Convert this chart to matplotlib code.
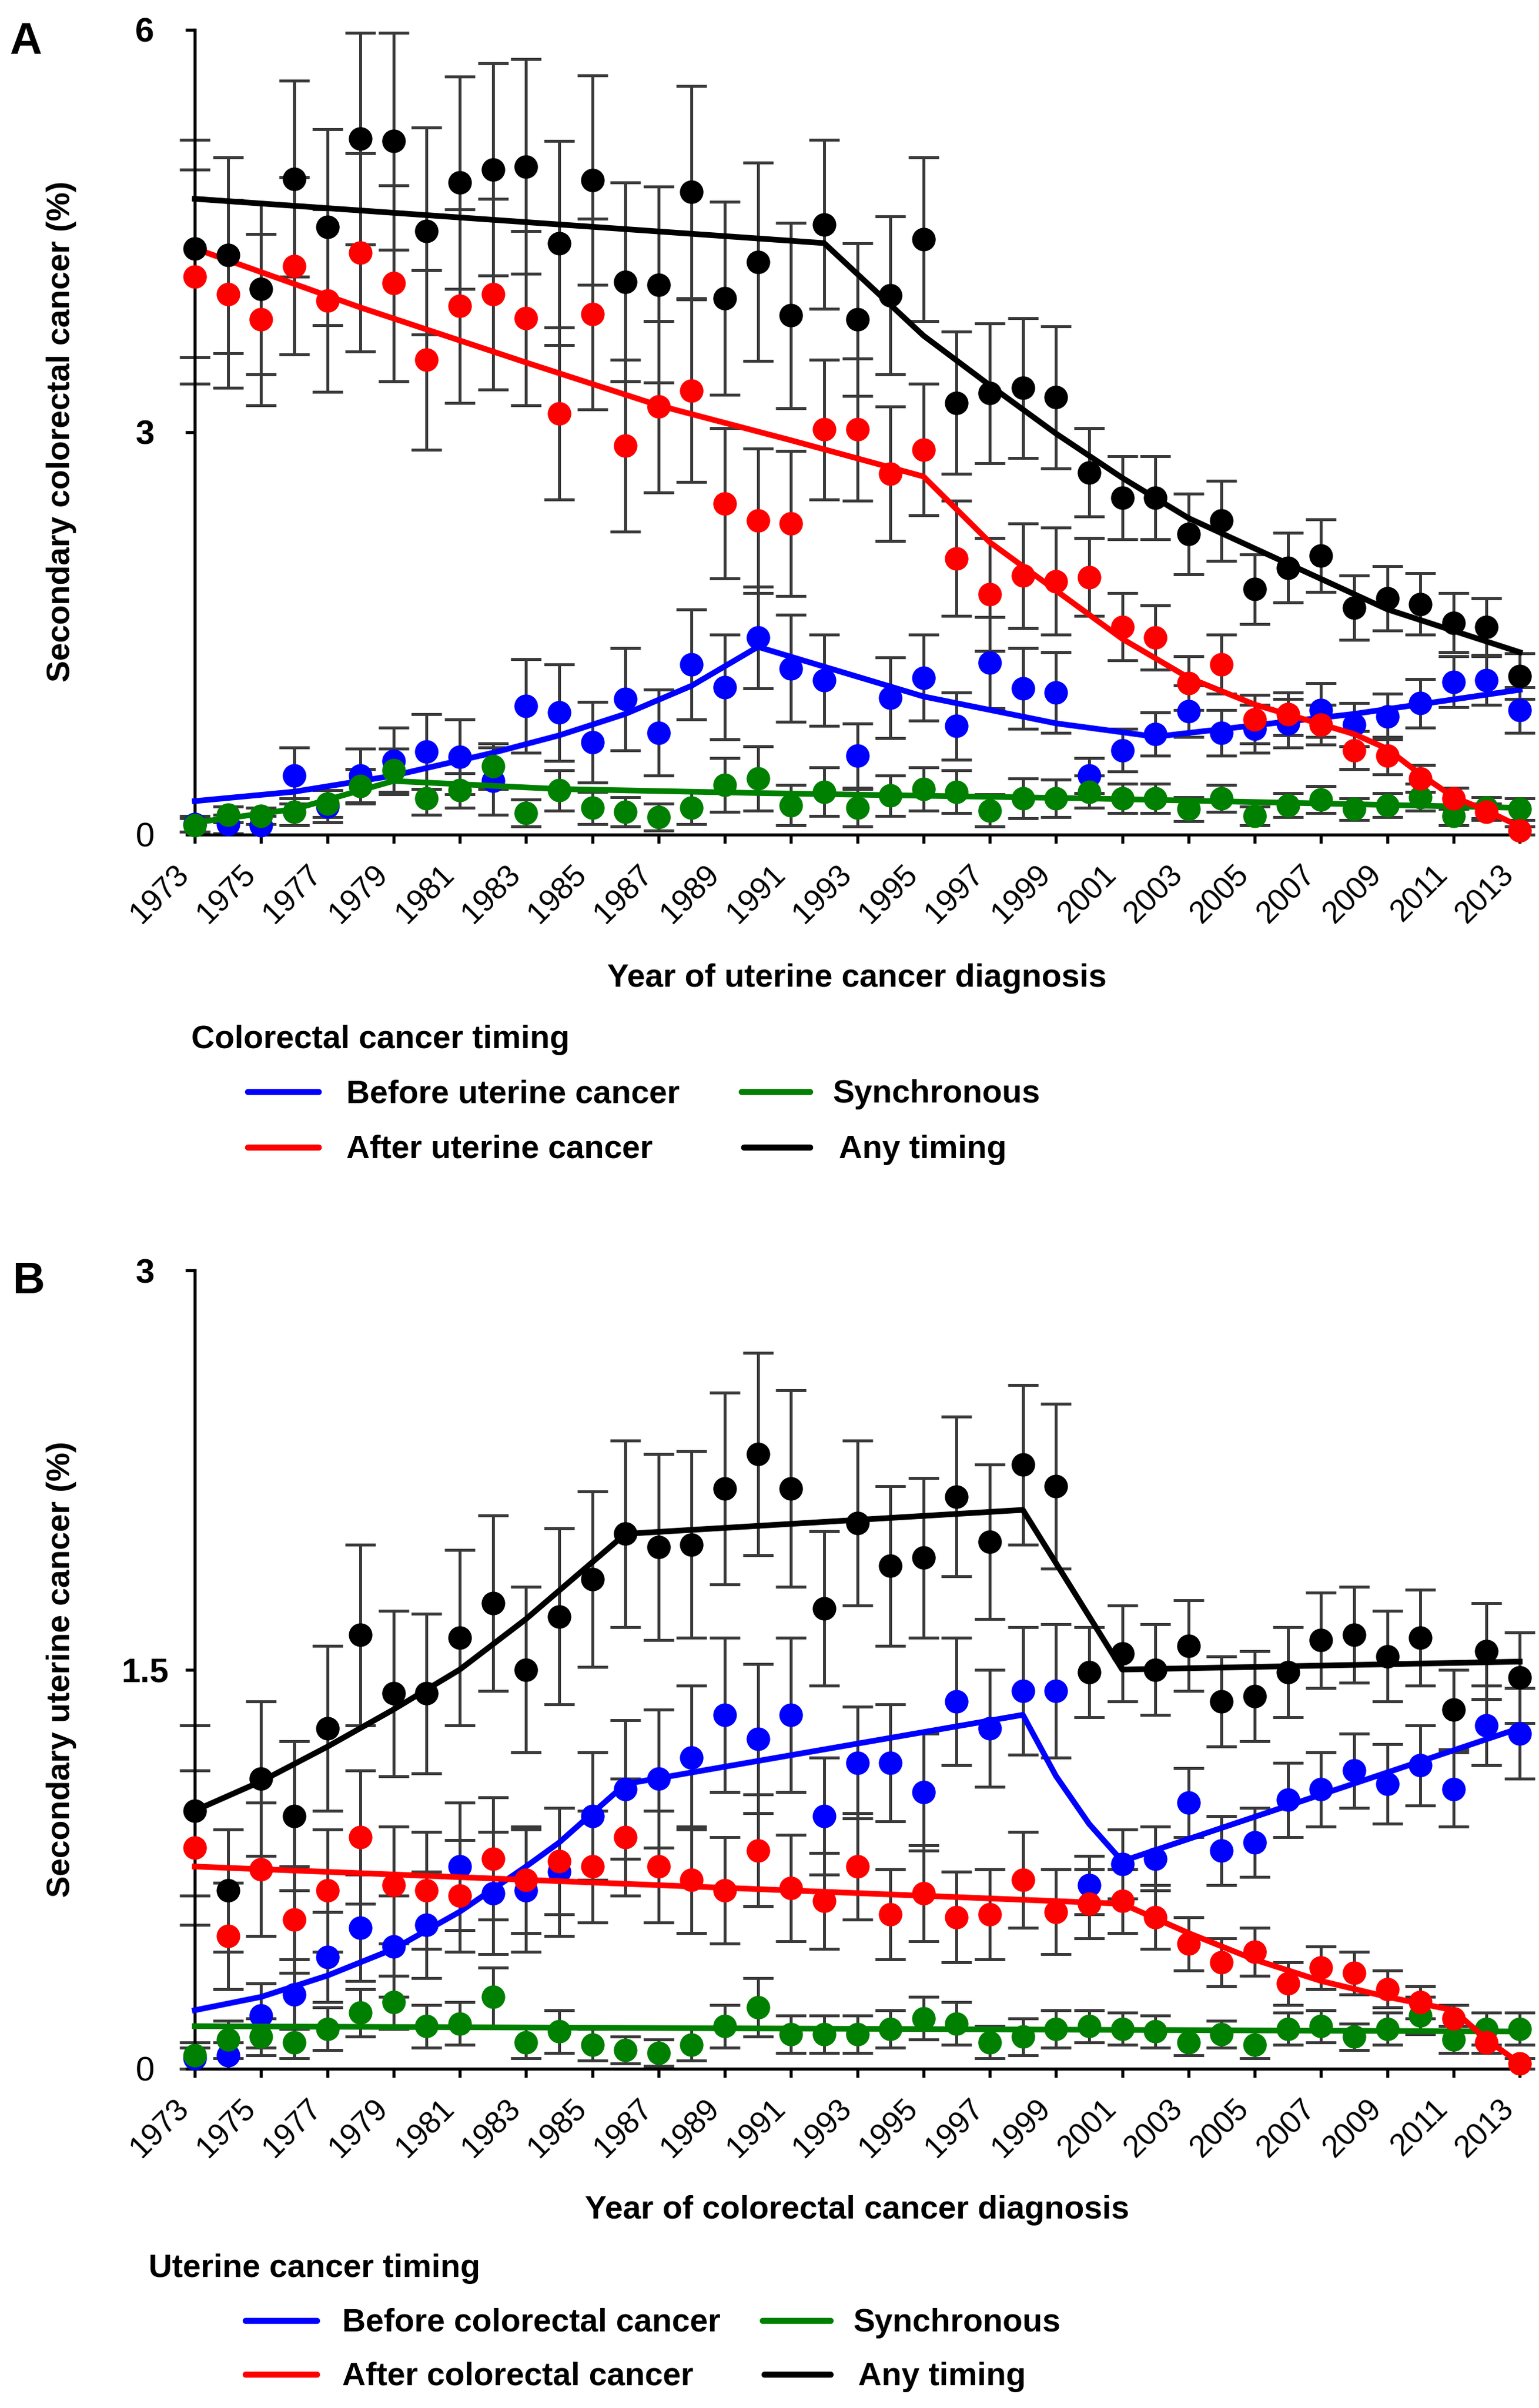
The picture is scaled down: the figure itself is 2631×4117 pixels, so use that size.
import matplotlib
matplotlib.use("Agg")
import matplotlib.pyplot as plt
from matplotlib.lines import Line2D

plt.rcParams['font.family'] = ['Liberation Sans', 'DejaVu Sans']

W, H = 2631, 4117
years = list(range(1973, 2014))
year_ticks = list(range(1973, 2014, 2))

# ---- Panel A: secondary colorectal cancer (%) ----
a_before = [0.08, 0.08, 0.07, 0.44, 0.21, 0.44, 0.55, 0.62, 0.58, 0.40, 0.96, 0.91, 0.69, 1.01,
            0.76, 1.27, 1.10, 1.47, 1.24, 1.15, 0.59, 1.02, 1.17, 0.81, 1.28, 1.09, 1.06, 0.44,
            0.63, 0.75, 0.92, 0.76, 0.79, 0.83, 0.93, 0.82, 0.88, 0.98, 1.14, 1.15, 0.93]
a_before_err = [0.06, 0.07, 0.07, 0.21, 0.12, 0.20, 0.25, 0.28, 0.28, 0.25, 0.35, 0.36, 0.30, 0.38,
                0.32, 0.41, 0.39, 0.38, 0.40, 0.34, 0.24, 0.30, 0.32, 0.25, 0.34, 0.30, 0.30, 0.13,
                0.16, 0.16, 0.19, 0.17, 0.18, 0.18, 0.20, 0.16, 0.17, 0.18, 0.19, 0.18, 0.17]
a_after = [4.16, 4.03, 3.84, 4.24, 3.98, 4.34, 4.11, 3.54, 3.94, 4.03, 3.85, 3.14, 3.88, 2.90,
           3.19, 3.31, 2.47, 2.34, 2.32, 3.02, 3.02, 2.69, 2.87, 2.06, 1.79, 1.93, 1.89, 1.92,
           1.55, 1.47, 1.13, 1.27, 0.86, 0.90, 0.82, 0.63, 0.59, 0.42, 0.27, 0.17, 0.03]
a_after_err = [0.80, 0.70, 0.64, 0.66, 0.68, 0.74, 0.73, 0.67, 0.72, 0.71, 0.65, 0.64, 0.71, 0.64,
               0.64, 0.68, 0.56, 0.54, 0.54, 0.52, 0.53, 0.50, 0.49, 0.43, 0.42, 0.39, 0.40, 0.29,
               0.25, 0.24, 0.20, 0.22, 0.18, 0.16, 0.15, 0.14, 0.14, 0.10, 0.08, 0.06, 0.03]
a_sync = [0.07, 0.15, 0.14, 0.17, 0.23, 0.36, 0.48, 0.27, 0.33, 0.51, 0.16, 0.33, 0.20, 0.17,
          0.13, 0.20, 0.37, 0.42, 0.22, 0.32, 0.20, 0.29, 0.34, 0.32, 0.18, 0.27, 0.27, 0.32,
          0.27, 0.27, 0.19, 0.27, 0.14, 0.22, 0.26, 0.19, 0.22, 0.28, 0.14, 0.20, 0.19]
a_sync_err = [0.05, 0.06, 0.06, 0.10, 0.10, 0.13, 0.16, 0.12, 0.13, 0.17, 0.10, 0.15, 0.12, 0.11,
              0.10, 0.12, 0.20, 0.24, 0.15, 0.18, 0.14, 0.15, 0.16, 0.16, 0.12, 0.15, 0.14, 0.12,
              0.11, 0.11, 0.09, 0.10, 0.07, 0.09, 0.10, 0.08, 0.09, 0.10, 0.07, 0.08, 0.08]
a_any = [4.37, 4.32, 4.07, 4.89, 4.53, 5.19, 5.17, 4.50, 4.86, 4.96, 4.98, 4.41, 4.88, 4.12,
         4.10, 4.79, 4.00, 4.27, 3.87, 4.55, 3.84, 4.02, 4.44, 3.22, 3.29, 3.33, 3.26, 2.70,
         2.51, 2.51, 2.24, 2.34, 1.83, 1.99, 2.08, 1.69, 1.76, 1.72, 1.58, 1.55, 1.18]
a_any_err = [0.81, 0.73, 0.64, 0.73, 0.73, 0.79, 0.81, 0.77, 0.79, 0.79, 0.80, 0.76, 0.78, 0.74,
             0.73, 0.79, 0.72, 0.74, 0.69, 0.63, 0.57, 0.59, 0.61, 0.53, 0.52, 0.52, 0.53, 0.33,
             0.31, 0.31, 0.30, 0.30, 0.26, 0.26, 0.27, 0.24, 0.24, 0.23, 0.22, 0.21, 0.17]

# joinpoint fits, panel A (knot years / values)
fa_before_x = [1973, 1976, 1979, 1982, 1984, 1986, 1988, 1990, 1995, 1999, 2002, 2008, 2013]
fa_before_y = [0.25, 0.32, 0.44, 0.61, 0.74, 0.90, 1.11, 1.40, 1.03, 0.83, 0.73, 0.90, 1.08]
fa_after_x = [1973, 1978, 1983, 1987, 1991, 1995, 1997, 1999, 2001, 2003, 2005, 2008, 2009,
              2010, 2011, 2012, 2013]
fa_after_y = [4.37, 3.93, 3.52, 3.20, 2.94, 2.67, 2.18, 1.82, 1.46, 1.17, 0.97, 0.75, 0.64,
              0.45, 0.28, 0.18, 0.06]
fa_sync_x = [1973, 1976, 1979, 1984, 1990, 2000, 2013]
fa_sync_y = [0.09, 0.19, 0.40, 0.34, 0.31, 0.27, 0.20]
fa_any_x = [1973, 1992, 1995, 1997, 1999, 2001, 2003, 2006, 2009, 2013]
fa_any_y = [4.74, 4.41, 3.72, 3.35, 2.99, 2.66, 2.36, 2.02, 1.68, 1.36]

# ---- Panel B: secondary uterine cancer (%) ----
b_before = [0.04, 0.05, 0.20, 0.28, 0.42, 0.53, 0.46, 0.54, 0.76, 0.66, 0.67, 0.74, 0.95, 1.05,
            1.09, 1.17, 1.33, 1.24, 1.33, 0.95, 1.15, 1.15, 1.04, 1.38, 1.28, 1.42, 1.42, 0.69,
            0.77, 0.79, 1.00, 0.82, 0.85, 1.01, 1.05, 1.12, 1.07, 1.14, 1.05, 1.29, 1.26]
b_before_err = [0.04, 0.05, 0.12, 0.13, 0.17, 0.20, 0.19, 0.20, 0.24, 0.23, 0.23, 0.24, 0.24, 0.26,
                0.26, 0.27, 0.29, 0.28, 0.29, 0.22, 0.21, 0.22, 0.22, 0.24, 0.22, 0.24, 0.25, 0.11,
                0.13, 0.12, 0.13, 0.13, 0.13, 0.14, 0.14, 0.14, 0.15, 0.15, 0.14, 0.15, 0.17]
b_after = [0.83, 0.50, 0.75, 0.56, 0.67, 0.87, 0.69, 0.67, 0.65, 0.79, 0.71, 0.78, 0.76, 0.87,
           0.76, 0.71, 0.67, 0.82, 0.68, 0.63, 0.76, 0.58, 0.66, 0.57, 0.58, 0.71, 0.59, 0.62,
           0.63, 0.57, 0.47, 0.40, 0.44, 0.32, 0.38, 0.36, 0.30, 0.25, 0.19, 0.10, 0.02]
b_after_err = [0.29, 0.20, 0.25, 0.20, 0.23, 0.25, 0.22, 0.22, 0.21, 0.23, 0.20, 0.20, 0.21, 0.22,
               0.21, 0.20, 0.20, 0.21, 0.20, 0.18, 0.20, 0.17, 0.18, 0.17, 0.17, 0.18, 0.16, 0.13,
               0.12, 0.12, 0.10, 0.09, 0.09, 0.08, 0.08, 0.08, 0.07, 0.06, 0.05, 0.04, 0.02]
b_sync = [0.05, 0.11, 0.12, 0.10, 0.15, 0.21, 0.25, 0.16, 0.17, 0.27, 0.10, 0.14, 0.09, 0.07,
          0.06, 0.09, 0.16, 0.23, 0.13, 0.13, 0.13, 0.15, 0.19, 0.17, 0.10, 0.12, 0.15, 0.16,
          0.15, 0.14, 0.10, 0.13, 0.09, 0.15, 0.16, 0.12, 0.15, 0.20, 0.11, 0.15, 0.15]
b_sync_err = [0.05, 0.07, 0.07, 0.06, 0.08, 0.09, 0.10, 0.08, 0.08, 0.11, 0.06, 0.08, 0.06, 0.05,
              0.05, 0.06, 0.08, 0.11, 0.07, 0.07, 0.07, 0.07, 0.08, 0.08, 0.06, 0.07, 0.07, 0.06,
              0.06, 0.06, 0.05, 0.05, 0.05, 0.06, 0.06, 0.05, 0.06, 0.07, 0.05, 0.06, 0.06]
b_any = [0.97, 0.67, 1.09, 0.95, 1.28, 1.63, 1.41, 1.41, 1.62, 1.75, 1.50, 1.70, 1.84, 2.01,
         1.96, 1.97, 2.18, 2.31, 2.18, 1.73, 2.05, 1.89, 1.92, 2.15, 1.98, 2.27, 2.19, 1.49,
         1.56, 1.50, 1.59, 1.38, 1.40, 1.49, 1.61, 1.63, 1.55, 1.62, 1.35, 1.57, 1.47]
b_any_err = [0.32, 0.23, 0.29, 0.28, 0.31, 0.34, 0.31, 0.30, 0.33, 0.33, 0.31, 0.33, 0.33, 0.35,
             0.35, 0.35, 0.36, 0.38, 0.37, 0.29, 0.31, 0.30, 0.30, 0.30, 0.29, 0.30, 0.31, 0.17,
             0.18, 0.17, 0.17, 0.17, 0.17, 0.17, 0.18, 0.18, 0.17, 0.18, 0.15, 0.18, 0.17]

fb_before_x = [1973, 1975, 1977, 1979, 1981, 1983, 1984, 1985, 1986, 1998, 1999, 2000, 2001, 2013]
fb_before_y = [0.22, 0.27, 0.35, 0.45, 0.59, 0.76, 0.85, 0.96, 1.07, 1.33, 1.10, 0.92, 0.78, 1.28]
fb_after_x = [1973, 2001, 2003, 2005, 2007, 2009, 2011, 2012, 2013]
fb_after_y = [0.76, 0.62, 0.51, 0.41, 0.33, 0.27, 0.22, 0.11, 0.02]
fb_sync_x = [1973, 2013]
fb_sync_y = [0.16, 0.14]
fb_any_x = [1973, 1975, 1977, 1979, 1981, 1983, 1986, 1998, 2001, 2013]
fb_any_y = [0.97, 1.08, 1.21, 1.35, 1.50, 1.69, 2.01, 2.10, 1.50, 1.53]

BLUE, RED, GREEN, BLACK = '#0000ff', '#ff0000', '#008000', '#000000'


def fx(px):
    return px / W


def fy(py):
    return 1 - py / H


def draw_panel(ax, series, ymax, yticks, yticklabels):
    for vals, errs, color, fx_, fy_, z in series:
        eb = ax.errorbar(years, vals, yerr=errs, fmt='none', ecolor='#3a3a3a',
                         elinewidth=3.6, capsize=19, capthick=3.6, zorder=1)
        for art in list(eb.lines[1]) + list(eb.lines[2]):
            art.set_clip_on(False)
    for vals, errs, color, fx_, fy_, z in series:
        ax.plot(years, vals, 'o', color=color, ms=29, mec='none', zorder=z, clip_on=False)
        ax.plot(fx_, fy_, '-', color=color, lw=7, zorder=z + 0.5, clip_on=False,
                solid_joinstyle='round')
    ax.set_xlim(1973, 2013.15)
    ax.set_ylim(0, ymax)
    for s in ['top', 'right']:
        ax.spines[s].set_visible(False)
    for s in ['left', 'bottom']:
        ax.spines[s].set_linewidth(3.8)
    ax.set_xticks(year_ticks)
    ax.set_xticklabels([str(y) for y in year_ticks], rotation=45, ha='right', fontsize=38)
    ax.tick_params(axis='x', length=11, width=3.8, pad=20, direction='out')
    ax.set_yticks(yticks)
    ax.set_yticklabels(yticklabels, fontsize=42, fontweight='bold', ha='center')
    ax.get_yticklabels()[0].set_fontweight('normal')
    ax.tick_params(axis='y', length=11.5, width=3.8, pad=50, direction='out')


fig = plt.figure(figsize=(W / 100, H / 100), dpi=100)

left = fx(333)
width = fx(2606.5) - left
ax_a = fig.add_axes([left, fy(1427), width, fy(51) - fy(1427)])
ax_b = fig.add_axes([left, fy(3537), width, fy(2172) - fy(3537)])

draw_panel(ax_a, [
    (a_before, a_before_err, BLUE, fa_before_x, fa_before_y, 3),
    (a_sync, a_sync_err, GREEN, fa_sync_x, fa_sync_y, 4),
    (a_after, a_after_err, RED, fa_after_x, fa_after_y, 5),
    (a_any, a_any_err, BLACK, fa_any_x, fa_any_y, 6),
], 6, [0, 3, 6], ['0', '3', '6'])

draw_panel(ax_b, [
    (b_before, b_before_err, BLUE, fb_before_x, fb_before_y, 3),
    (b_sync, b_sync_err, GREEN, fb_sync_x, fb_sync_y, 4),
    (b_after, b_after_err, RED, fb_after_x, fb_after_y, 5),
    (b_any, b_any_err, BLACK, fb_any_x, fb_any_y, 6),
], 3, [0, 1.5, 3], ['0', '1.5', '3'])

# panel letters
fig.text(fx(16), fy(92), 'A', fontsize=55, fontweight='bold', ha='left', va='baseline')
fig.text(fx(22), fy(2211), 'B', fontsize=55, fontweight='bold', ha='left', va='baseline')

# axis labels
fig.text(fx(105), fy(738), 'Secondary colorectal cancer (%)', rotation=90, fontsize=40,
         fontweight='bold', ha='center', va='center')
fig.text(fx(105), fy(2854), 'Secondary uterine cancer (%)', rotation=90, fontsize=40,
         fontweight='bold', ha='center', va='center')
fig.text(fx(1465), fy(1687), 'Year of uterine cancer diagnosis', fontsize=40,
         fontweight='bold', ha='center', va='baseline')
fig.text(fx(1465), fy(3793), 'Year of colorectal cancer diagnosis', fontsize=40,
         fontweight='bold', ha='center', va='baseline')


def legend_block(title, tx, ty, rows):
    fig.text(fx(tx), fy(ty), title, fontsize=40, fontweight='bold', ha='left', va='baseline')
    for x0, x1, ly, color, lx, label in rows:
        fig.add_artist(Line2D([fx(x0), fx(x1)], [fy(ly), fy(ly)], color=color, lw=7.5,
                              transform=fig.transFigure, solid_capstyle='round'))
        fig.text(fx(lx), fy(ly + 18), label, fontsize=40, fontweight='bold',
                 ha='left', va='baseline')


legend_block('Colorectal cancer timing', 327, 1792, [
    (424, 545, 1867, BLUE, 592, 'Before uterine cancer'),
    (1268, 1385, 1867, GREEN, 1423, 'Synchronous'),
    (424, 545, 1962, RED, 592, 'After uterine cancer'),
    (1272, 1385, 1962, BLACK, 1434, 'Any timing'),
])

legend_block('Uterine cancer timing', 254, 3893, [
    (420, 542, 3968, BLUE, 585, 'Before colorectal cancer'),
    (1304, 1420, 3968, GREEN, 1458, 'Synchronous'),
    (420, 542, 4060, RED, 585, 'After colorectal cancer'),
    (1307, 1420, 4060, BLACK, 1467, 'Any timing'),
])

fig.savefig('out.png', dpi=100)
